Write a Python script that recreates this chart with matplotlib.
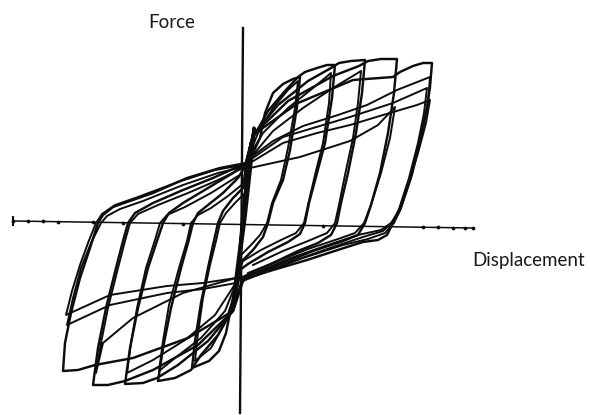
import matplotlib.pyplot as plt

# Cyclic test record: displacement (d) vs force (f), drawn in plot units.
# Each branch is a list of (d, f) points.

# primary cycles, positive half: reload from the pinch, peak, unload, back to pinch
pos_branch_1 = [(3, 58), (10, 70), (17, 85), (22, 110), (30, 130), (40, 139), (50, 144), (57, 146),
                (54, 116), (47, 73), (40, 43), (30, 20), (25, 0), (20, -14), (10, -27), (0, -37), (-3, -45)]
pos_branch_2 = [(3, 58), (10, 85), (25, 112), (42, 132), (55, 146), (62, 151), (74, 155), (84, 158), (92, 158),
                (89, 125), (82, 80), (74, 50), (66, 20), (62, 0), (57, -11), (45, -19), (25, -29), (5, -41), (-2, -46)]
pos_branch_3 = [(3, 60), (10, 88), (35, 118), (65, 142), (88, 155), (96, 160), (108, 162), (122, 163),
                (119, 130), (113, 90), (105, 50), (98, 20), (94, 0), (88, -12), (75, -20), (55, -28), (30, -40),
                (8, -50), (0, -54)]
pos_branch_4 = [(3, 60), (10, 88), (45, 122), (90, 147), (116, 157), (125, 162), (138, 164), (154, 164),
                (151, 130), (145, 90), (137, 50), (128, 18), (122, 0), (115, -12), (100, -18), (70, -28),
                (40, -40), (10, -52), (0, -56)]
pos_branch_5 = [(3, 60), (10, 88), (55, 120), (110, 143), (150, 146), (157, 151), (170, 157), (180, 160),
                (189, 160), (187, 136), (184, 116), (177, 83), (167, 43), (157, 13), (150, 0), (144, -12),
                (135, -17), (120, -19), (104, -24), (64, -37), (30, -47), (7, -54), (0, -58)]

# primary cycles, negative half
neg_branch_1 = [(-3, -45), (-8, -65), (-12, -85), (-17, -110), (-24, -128), (-34, -138), (-51, -145),
                (-48, -118), (-42, -80), (-35, -45), (-30, -22), (-25, 0), (-20, 12), (-10, 25), (0, 35), (3, 58)]
neg_branch_2 = [(-2, -46), (-10, -85), (-25, -112), (-42, -132), (-52, -147), (-68, -155), (-85, -158),
                (-80, -125), (-72, -85), (-62, -45), (-55, -20), (-50, 0), (-45, 10), (-35, 18), (-20, 30),
                (-5, 45), (3, 58)]
neg_branch_3 = [(0, -54), (-10, -88), (-35, -118), (-65, -142), (-86, -155), (-100, -160), (-118, -161),
                (-113, -125), (-105, -85), (-95, -45), (-86, -18), (-80, 0), (-74, 10), (-60, 20), (-35, 35),
                (-10, 50), (3, 60)]
neg_branch_4 = [(0, -56), (-10, -88), (-45, -122), (-90, -147), (-118, -158), (-135, -162), (-150, -162),
                (-145, -125), (-137, -85), (-127, -45), (-120, -18), (-115, 0), (-108, 10), (-90, 20),
                (-60, 33), (-30, 45), (3, 60)]
neg_branch_5 = [(0, -58), (-10, -88), (-55, -115), (-110, -135), (-148, -142), (-165, -147), (-180, -148),
                (-178, -120), (-172, -90), (-163, -55), (-153, -25), (-145, 0), (-140, 8), (-130, 16),
                (-116, 21), (-90, 30), (-56, 45), (-23, 55), (3, 60)]

# repeated cycles at the same amplitude (degraded peaks)
pos_repeats = [
    [(5, 65), (15, 90), (30, 115), (45, 133), (55, 142), (52, 115), (45, 75), (38, 43), (29, 20), (24, 0),
     (17, -12), (8, -22), (-2, -32)],
    [(5, 65), (20, 90), (45, 115), (70, 135), (88, 150), (86, 120), (80, 80), (72, 48), (65, 18), (61, 0),
     (53, -10), (38, -17), (18, -27), (0, -38)],
    [(5, 62), (30, 92), (60, 115), (90, 135), (118, 152), (115, 120), (110, 85), (102, 48), (96, 18), (92, 0),
     (84, -10), (65, -18), (40, -28), (10, -42)],
    [(7, 55), (57, 66), (107, 82), (135, 98), (152, 116), (147, 85), (138, 50), (128, 18), (121, 0),
     (112, -10), (95, -16), (65, -26), (35, -38), (5, -50)],
    [(7, 65), (30, 82), (60, 97), (95, 108), (124, 118), (154, 133), (187, 146), (185, 120), (179, 88),
     (169, 48), (158, 15), (151, 0), (142, -10), (125, -16), (100, -22), (60, -35), (25, -48), (3, -56)],
    [(7, 63), (40, 86), (107, 106), (150, 120), (184, 135), (181, 110), (175, 80), (166, 45), (156, 14),
     (149, 0), (140, -8), (120, -14), (90, -24), (50, -38), (15, -52), (2, -57)],
    [(7, 60), (40, 80), (74, 90), (107, 98), (140, 108), (174, 118), (187, 123), (183, 100), (175, 70),
     (165, 38), (156, 12), (148, 0), (138, -7), (115, -12), (85, -22), (45, -36), (12, -50), (0, -55)],
]
neg_repeats = [
    [(-2, -45), (-8, -70), (-18, -100), (-32, -125), (-48, -138), (-45, -110), (-40, -75), (-33, -42),
     (-27, -18), (-23, 0), (-17, 10), (-8, 20), (2, 30)],
    [(-2, -48), (-18, -88), (-42, -115), (-68, -135), (-84, -148), (-80, -118), (-74, -82), (-64, -45),
     (-56, -18), (-52, 0), (-45, 8), (-32, 15), (-15, 27), (1, 40)],
    [(-2, -52), (-28, -92), (-58, -117), (-90, -137), (-116, -150), (-112, -120), (-106, -85), (-97, -45),
     (-88, -17), (-83, 0), (-76, 8), (-58, 16), (-32, 30), (-5, 47)],
    [(-7, -55), (-60, -70), (-110, -95), (-140, -120), (-147, -150), (-142, -120), (-135, -85), (-125, -45),
     (-118, -18), (-113, 0), (-105, 9), (-85, 18), (-55, 30), (-25, 43), (0, 55)],
    [(-7, -60), (-40, -66), (-76, -70), (-133, -82), (-176, -102), (-170, -75), (-162, -45), (-152, -20),
     (-142, 0), (-136, 7), (-123, 14), (-100, 22), (-60, 38), (-25, 50), (0, 56)],
    [(-7, -55), (-40, -60), (-76, -63), (-133, -72), (-177, -92), (-171, -68), (-163, -42), (-155, -20),
     (-147, 0), (-141, 9), (-128, 18), (-105, 26), (-65, 41), (-28, 53), (0, 58)],
]

# small elastic cycles through the origin
elastic_loops = [
    [(0, 0), (4, 45), (8, 80), (5, 55), (0, 10), (-4, -40), (-8, -76), (-5, -52), (0, 0)],
    [(0, 0), (6, 50), (11, 95), (8, 60), (2, 5), (-5, -48), (-10, -82), (-7, -55), (0, 0)],
    [(-2, -20), (3, 30), (7, 70), (4, 40), (-1, -10), (-6, -60), (-3, -30)],
]

# axis extents in plot units
x_axis = [(-230, 2), (230, -5)]
y_axis = [(0, 195), (-3, -190)]
x_axis_dots = [-230, -215, -200, -185, -150, -120, -60, 80, 180, 195, 210, 222, 230]

fig = plt.figure(figsize=(5.9, 4.15), dpi=100)
ax = fig.add_axes([0, 0, 1, 1])
ax.set_xlim(-243, 347)
ax.set_ylim(-192, 223)
ax.set_axis_off()

ink = '#0d0d0d'

# axes of the diagram
(xa0, ya0), (xa1, ya1) = x_axis
ax.plot([xa0, xa1], [ya0, ya1], color=ink, lw=1.1)
dot_y = [ya0 + (ya1 - ya0) * (x - xa0) / (xa1 - xa0) for x in x_axis_dots]
ax.plot(x_axis_dots, dot_y, ls='none', marker='o', ms=1.7, color=ink)
ax.plot([xa0], [ya0], marker='|', ms=7, mew=1.5, color=ink)
ax.plot(*zip(*y_axis), color=ink, lw=1.7)

style = dict(color=ink, lw=1.75, solid_joinstyle='round', solid_capstyle='round')
for branch in [pos_branch_1, pos_branch_2, pos_branch_3, pos_branch_4, pos_branch_5,
               neg_branch_1, neg_branch_2, neg_branch_3, neg_branch_4, neg_branch_5]:
    ax.plot(*zip(*branch), **style)
for branch in pos_repeats + neg_repeats:
    ax.plot(*zip(*branch), color=ink, lw=1.4, solid_joinstyle='round')
for loop in elastic_loops:
    ax.plot(*zip(*loop), color=ink, lw=2.4, solid_joinstyle='round')

ax.text(-95, 195, 'Force', fontsize=13.5, family='Lato', color='#1a1a1a', ha='left', va='baseline')
ax.text(229, -43, 'Displacement', fontsize=13.5, family='Lato', color='#1a1a1a', ha='left', va='baseline')

fig.savefig('out.png', dpi=100)
